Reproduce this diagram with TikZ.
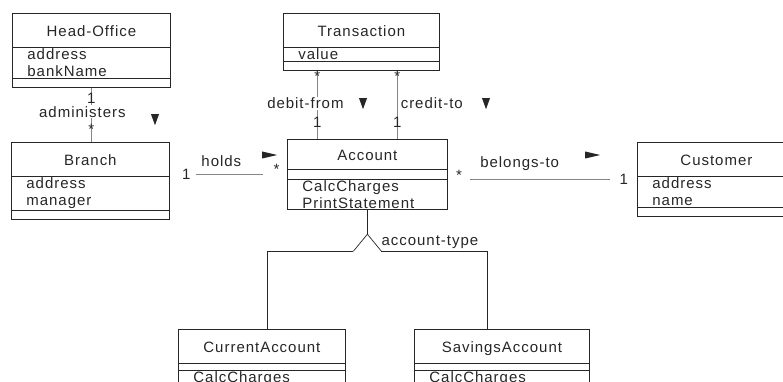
\documentclass[tikz,border=0pt]{standalone}
\usepackage{fontspec}
\setmainfont{Liberation Sans}[LetterSpace=6.5]
\usepackage{xcolor}
\usepackage{tikz}
\usetikzlibrary{shapes.multipart,shapes.geometric}
\definecolor{UmlInk}{HTML}{262626}
\definecolor{UmlWire}{HTML}{858585}
\newcommand{\clsStrut}{\rule[-9pt]{0pt}{31pt}}
\newcommand{\clsEmpty}{\rule{0pt}{7pt}}
\newcommand{\clsName}[1]{\makebox[\hsize][c]{#1}}

\begin{document}
\begin{tikzpicture}[x=1pt,y=-1pt]
  \path[use as bounding box] (0,0) rectangle (783,382);
  \clip (0,0) rectangle (783,382);
  \tikzset{
    umlClass/.style={
      rectangle split, rectangle split parts=3, draw=UmlInk, line width=.8pt,
      anchor=north west, text width=#1, inner xsep=15pt, inner ysep=1pt,
      align=left, font=\fontsize{15}{17}\selectfont, text=UmlInk
    },
    umlLabel/.style={
      font=\fontsize{15}{17}\selectfont, text=UmlInk, fill=white, inner sep=1pt
    },
    umlMult/.style={umlLabel,fill=none},
    umlAssoc/.style={draw=UmlWire, line width=.8pt},
    umlGen/.style={draw=UmlInk, line width=.7pt},
    umlDirDown/.style={
      isosceles triangle, isosceles triangle stretches, rotate=-90,
      fill=UmlInk, inner sep=0pt, minimum width=8pt, minimum height=11pt
    },
    umlDirRight/.style={
      isosceles triangle, isosceles triangle stretches,
      fill=UmlInk, inner sep=0pt, minimum width=7pt, minimum height=15pt
    }
  }

  \node[umlClass=128pt] (office) at (12,13)
    {\clsStrut\clsName{Head-Office}\nodepart{two}address\\bankName\nodepart{three}\clsEmpty};
  \node[umlClass=126pt] (trans) at (283,13)
    {\clsStrut\clsName{Transaction}\nodepart{two}value\nodepart{three}\clsEmpty};
  \node[umlClass=128pt] (branch) at (11,142)
    {\clsStrut\clsName{Branch}\nodepart{two}address\\manager\nodepart{three}\clsEmpty};
  \node[umlClass=130pt] (acct) at (287,139)
    {\rule[-7pt]{0pt}{27pt}\clsName{Account}\nodepart{two}\clsEmpty\nodepart{three}CalcCharges\\PrintStatement};
  \node[umlClass=128pt] (cust) at (637,142)
    {\clsStrut\clsName{Customer}\nodepart{two}address\\name\nodepart{three}\clsEmpty};
  \node[umlClass=137pt] (curAcct) at (178,329)
    {\clsStrut\clsName{CurrentAccount}\nodepart{two}\rule{0pt}{4pt}\nodepart{three}CalcCharges\\PrintStatement};
  \node[umlClass=145pt] (savAcct) at (414,329)
    {\clsStrut\clsName{SavingsAccount}\nodepart{two}\rule{0pt}{4pt}\nodepart{three}CalcCharges\\PrintStatement};

  \draw[umlAssoc] (office.south) -- (office.south |- branch.north)
    node[umlMult,pos=.18] (adminOne) {1}
    node[umlLabel,pos=.44,xshift=-9pt] (adminName) {administers}
    node[umlMult,pos=.77] (adminMany) {*};

  \draw[umlAssoc] ([xshift=-44pt]trans.south) -- ([xshift=-44pt]trans.south |- acct.north)
    node[umlMult,pos=.08] (debitMany) {*}
    node[umlLabel,pos=.47,xshift=-12pt] (debitName) {debit-from}
    node[umlMult,pos=.76] (debitOne) {1};
  \draw[umlAssoc] ([xshift=36pt]trans.south) -- ([xshift=36pt]trans.south |- acct.north)
    node[umlMult,pos=.08] (creditMany) {*}
    node[umlLabel,pos=.47,anchor=west,xshift=2pt] (creditName) {credit-to}
    node[umlMult,pos=.76] (creditOne) {1};

  % The association lines stop short of the boxes, as the multiplicities sit in the gaps.
  \draw[umlAssoc,shorten <=26pt,shorten >=24pt] (branch.east |- acct.west) -- (acct.west)
    node[umlMult,pos=.14] (holdsOne) {1}
    node[umlLabel,pos=.44,yshift=13pt] (holdsName) {holds}
    node[umlMult,pos=.91,yshift=5pt] (holdsMany) {*};
  \draw[umlAssoc,shorten <=22pt,shorten >=27pt] (acct.east |- cust.west) -- (cust.west)
    node[umlMult,pos=.06,yshift=4pt] (belongsMany) {*}
    node[umlLabel,pos=.38,yshift=16pt] (belongsName) {belongs-to}
    node[umlMult,pos=.93] (belongsOne) {1};

  \node[umlDirDown] (adminDir) at (155,117) {};
  \node[umlDirDown] (debitDir) at (363,101) {};
  \node[umlDirDown] (creditDir) at (486,101) {};
  \node[umlDirRight] (holdsDir) at (265,155) {};
  \node[umlDirRight] (belongsDir) at (588,155) {};

  % Generalisation: open wedge under Account, bar out to both subclasses.
  \coordinate (genTip) at ([yshift=-24pt]acct.south);
  \coordinate (genLeft) at ([xshift=-14pt,yshift=-17pt]genTip);
  \coordinate (genRight) at ([xshift=14pt,yshift=-17pt]genTip);
  \coordinate (barLeft) at ([xshift=-86pt]genLeft);
  \coordinate (barRight) at ([xshift=106pt]genRight);
  \draw[umlGen] (acct.south) -- (genTip);
  \draw[umlGen] (genLeft) -- (genTip) -- (genRight);
  \draw[umlGen] (genLeft) -- (barLeft) -- (barLeft |- curAcct.north);
  \draw[umlGen] (genRight) -- (barRight) -- (barRight |- savAcct.north);
  \node[umlMult,anchor=west,xshift=-1pt,yshift=9pt] (genName) at (genRight) {account-type};
\end{tikzpicture}
\end{document}
